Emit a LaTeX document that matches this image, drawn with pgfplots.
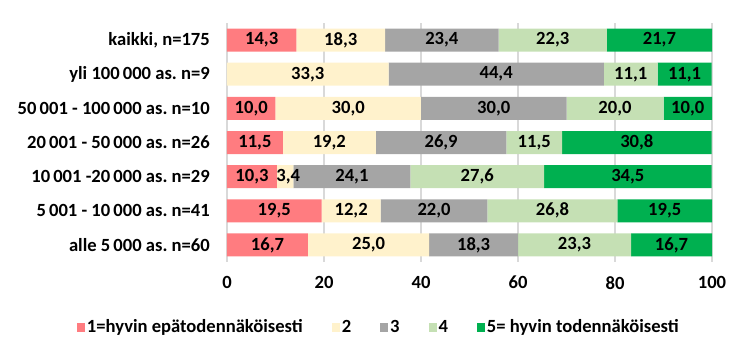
\documentclass[border=0pt]{standalone}
\usepackage{fontspec}
\setmainfont{Carlito}
\usepackage{pgfplots}
\pgfplotsset{compat=1.18}
\definecolor{c1}{HTML}{FF7C80}
\definecolor{c2}{HTML}{FFF2CC}
\definecolor{c3}{HTML}{A5A5A5}
\definecolor{c4}{HTML}{C5E0B4}
\definecolor{c5}{HTML}{00B050}
\definecolor{gridc}{HTML}{D9D9D9}
\newcommand{\ff}{\fontsize{18.6bp}{22bp}\selectfont\bfseries}
\frenchspacing
\begin{document}
\begin{tikzpicture}
\path[use as bounding box] (-227bp,-96bp) rectangle (523bp,262bp);
\begin{axis}[
  at={(0,0)}, anchor=south west,
  scale only axis, width=485bp, height=239bp,
  xbar stacked, bar width=23bp,
  xmin=0, xmax=100, ymin=-0.5, ymax=6.5,
  y dir=reverse,
  ytick={0,...,6},
  yticklabels={{kaikki, n=175},{yli 100\,000 as. n=9},{50\,001 - 100\,000 as. n=10},{20\,001 - 50\,000 as. n=26},{10\,001 -20\,000 as. n=29},{5\,001 - 10\,000 as. n=41},{alle 5\,000 as. n=60}},
  xtick={0,20,...,100},
  xmajorgrids, grid style={draw=gridc, line width=1.2bp},
  axis line style={draw=none},
  major tick length=0,
  tick label style={font=\ff},
  /pgf/number format/assume math mode=true,
  yticklabel style={inner sep=0pt, xshift=-17bp},
  xticklabel style={inner sep=0pt, yshift=-14bp},
  point meta=explicit symbolic,
  nodes near coords,
  nodes near coords align={center},
  every node near coord/.append style={font=\ff, text=black, inner sep=0pt},
  legend columns=5,
  legend style={at={(0.313,-0.272)}, anchor=center, draw=none, font=\ff,
    /tikz/every even column/.append style={column sep=27bp}},
  legend image code/.code={\fill[#1,draw=none] (0bp,-4.5bp) rectangle (8bp,4.5bp);},
]
\addplot[fill=c1, draw=none] coordinates {(14.3,0) [14,3] (0,1) [] (10.0,2) [10,0] (11.5,3) [11,5] (10.3,4) [10,3] (19.5,5) [19,5] (16.7,6) [16,7]};
\addplot[fill=c2, draw=none] coordinates {(18.3,0) [18,3] (33.3,1) [33,3] (30.0,2) [30,0] (19.2,3) [19,2] (3.4,4) [\kern6bp 3,4] (12.2,5) [12,2] (25.0,6) [25,0]};
\addplot[fill=c3, draw=none] coordinates {(23.4,0) [23,4] (44.4,1) [44,4] (30.0,2) [30,0] (26.9,3) [26,9] (24.1,4) [24,1] (22.0,5) [22,0] (18.3,6) [18,3]};
\addplot[fill=c4, draw=none] coordinates {(22.3,0) [22,3] (11.1,1) [11,1] (20.0,2) [20,0] (11.5,3) [11,5] (27.6,4) [27,6] (26.8,5) [26,8] (23.3,6) [23,3]};
\addplot[fill=c5, draw=none] coordinates {(21.7,0) [21,7] (11.1,1) [11,1] (10.0,2) [10,0] (30.8,3) [30,8] (34.5,4) [34,5] (19.5,5) [19,5] (16.7,6) [16,7]};
\legend{1=hyvin epätodennäköisesti,2,3,4,5= hyvin todennäköisesti}
\end{axis}
\end{tikzpicture}
\end{document}
